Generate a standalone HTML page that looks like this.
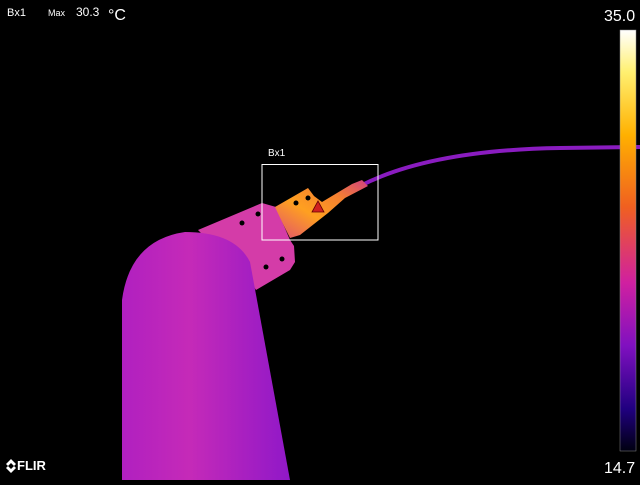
<!DOCTYPE html>
<html><head><meta charset="utf-8"><style>
body{margin:0;background:#000;width:640px;height:480px;overflow:hidden;font-family:"Liberation Sans",sans-serif}
</style></head><body>
<svg width="640" height="480" viewBox="0 0 640 480">
<defs>
<linearGradient id="cb" x1="0" y1="0" x2="0" y2="1">
<stop offset="0" stop-color="#ffffff"/><stop offset="0.1" stop-color="#fff070"/>
<stop offset="0.25" stop-color="#ffb000"/><stop offset="0.42" stop-color="#f06020"/>
<stop offset="0.6" stop-color="#d020a0"/><stop offset="0.75" stop-color="#8010c0"/>
<stop offset="0.9" stop-color="#200080"/><stop offset="1" stop-color="#000010"/>
</linearGradient>
<linearGradient id="cyl" x1="0" y1="0" x2="1" y2="0">
<stop offset="0" stop-color="#b020c0"/><stop offset="0.4" stop-color="#c52ab8"/><stop offset="1" stop-color="#9018c8"/>
</linearGradient>
<linearGradient id="hot" x1="0" y1="1" x2="1" y2="0">
<stop offset="0" stop-color="#e05070"/><stop offset="0.4" stop-color="#ffa020"/><stop offset="0.7" stop-color="#f58030"/><stop offset="1" stop-color="#d04080"/>
</linearGradient>
</defs>
<path d="M360 186 Q430 150 560 148 L640 147" stroke="#8a1cc0" stroke-width="4" fill="none"/>
<path d="M198 230 L262 203 L276 207 L284 226 L290 240 L294 246 L295 262 L290 270 L256 290 L244 272 L230 262 Z" fill="#d43ca8"/>
<path d="M275 207 L308 188 L314 196 L322 202 L352 184 L362 180 L368 186 L345 198 L328 213 L300 235 L290 238 L284 226 Z" fill="url(#hot)"/>
<path d="M122 480 L122 300 Q130 240 185 232 Q235 232 250 262 L290 480 Z" fill="url(#cyl)"/>
<g fill="#000">
<circle cx="242" cy="223" r="2.5"/><circle cx="258" cy="214" r="2.5"/>
<circle cx="266" cy="267" r="2.5"/><circle cx="282" cy="259" r="2.5"/>
<circle cx="296" cy="203" r="2.5"/><circle cx="308" cy="198" r="2.5"/>
</g>
<rect x="262" y="164.5" width="116" height="75.5" fill="none" stroke="#fff" stroke-width="1"/>
<text x="268" y="156" fill="#fff" font-size="10">Bx1</text>
<polygon points="318,201 312,212 324,212" fill="#d02020" stroke="#600" stroke-width="0.8"/>
<text x="7" y="16" fill="#fff" font-size="11">Bx1</text>
<text x="48" y="16" fill="#fff" font-size="9">Max</text>
<text x="76" y="16" fill="#fff" font-size="12">30.3</text>
<text x="108" y="20" fill="#fff" font-size="16">°C</text>
<text x="604" y="21" fill="#fff" font-size="16">35.0</text>
<text x="604" y="473" fill="#fff" font-size="16">14.7</text>
<rect x="620" y="30" width="16" height="421" fill="url(#cb)" stroke="#888" stroke-width="0.5"/>
<g>
<path d="M11 459 L16 464 L14 466 L11 463 L8 466 L6 464 Z M11 473 L16 468 L14 466 L11 469 L8 466 L6 468 Z" fill="#fff"/>
<text x="17" y="470" fill="#fff" font-size="13" font-weight="bold">FLIR</text>
</g>
</svg>
</body></html>
